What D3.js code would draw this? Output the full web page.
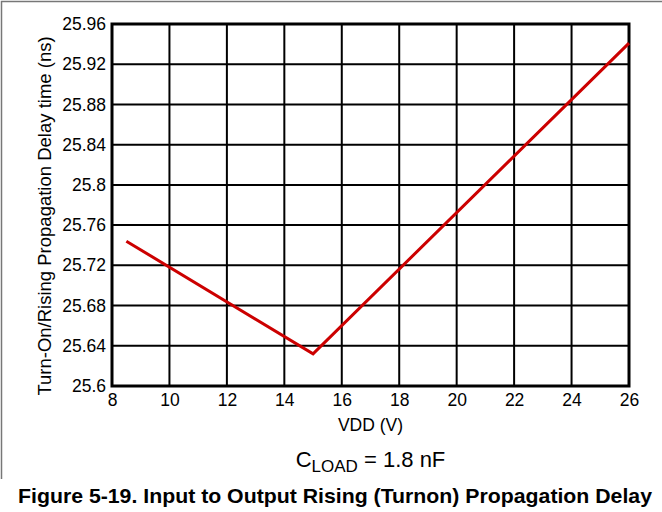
<!DOCTYPE html>
<html>
<head>
<meta charset="utf-8">
<script src="https://cdn.jsdelivr.net/npm/d3@7"></script>
<style>
  body { margin: 0; background: #fff; }
  svg { display: block; font-family: "Liberation Sans", Arial, sans-serif; }
</style>
</head>
<body>
<svg id="chart" width="662" height="512"></svg>
<script>
// Data
const vdd = [8.5, 15, 26];
const delay = [25.744, 25.632, 25.941];
const xTicks = [8, 10, 12, 14, 16, 18, 20, 22, 24, 26];
const yTicks = [25.6, 25.64, 25.68, 25.72, 25.76, 25.8, 25.84, 25.88, 25.92, 25.96];

const svg = d3.select("#chart");
const margin = { top: 24, right: 33, bottom: 126, left: 112 };
const width = 662 - margin.left - margin.right;
const height = 512 - margin.top - margin.bottom;

// outer figure frame (top + left)
svg.append("path")
    .attr("d", "M1.5,479 V1.5 H662")
    .attr("fill", "none")
    .attr("stroke", "#777")
    .attr("stroke-width", 1.5);

const x = d3.scaleLinear().domain([8, 26]).range([0, width]);
const y = d3.scaleLinear().domain([25.6, 25.96]).range([height, 0]);

const g = svg.append("g")
    .attr("transform", `translate(${margin.left},${margin.top})`);

// grid
g.append("g")
    .selectAll("line")
    .data(xTicks)
    .enter().append("line")
    .attr("x1", d => x(d)).attr("x2", d => x(d))
    .attr("y1", 0).attr("y2", height)
    .attr("stroke", "#000").attr("stroke-width", 2);

g.append("g")
    .selectAll("line")
    .data(yTicks)
    .enter().append("line")
    .attr("x1", 0).attr("x2", width)
    .attr("y1", d => y(d)).attr("y2", d => y(d))
    .attr("stroke", "#000").attr("stroke-width", 2);

g.append("rect")
    .attr("width", width).attr("height", height)
    .attr("fill", "none").attr("stroke", "#000").attr("stroke-width", 3);

// axes (labels only)
const xAxis = g.append("g")
    .attr("transform", `translate(0,${height})`)
    .call(d3.axisBottom(x).tickValues(xTicks).tickSize(0).tickPadding(8).tickFormat(d3.format("d")));
const yAxis = g.append("g")
    .call(d3.axisLeft(y).tickValues(yTicks).tickSize(0).tickPadding(6).tickFormat(d => +d.toFixed(2)));
[xAxis, yAxis].forEach(a => {
    a.select(".domain").remove();
    a.selectAll("text")
        .attr("font-family", "Liberation Sans, Arial, sans-serif")
        .attr("font-size", 17.5)
        .attr("fill", "#000");
});

// data line
const pts = vdd.map((v, i) => ({ v: v, d: delay[i] }));
g.append("path")
    .datum(pts)
    .attr("fill", "none")
    .attr("stroke", "#cc0000")
    .attr("stroke-width", 3)
    .attr("d", d3.line().x(d => x(d.v)).y(d => y(d.d)));

// titles
svg.append("text")
    .attr("x", margin.left + width / 2).attr("y", 431)
    .attr("text-anchor", "middle").attr("font-size", 17.5)
    .text("VDD (V)");

svg.append("text")
    .attr("transform", `translate(51,216) rotate(-90)`)
    .attr("text-anchor", "middle").attr("font-size", 18.5)
    .text("Turn-On/Rising Propagation Delay time (ns)");

const cl = svg.append("text")
    .attr("x", margin.left + width / 2).attr("y", 467)
    .attr("text-anchor", "middle").attr("font-size", 22);
cl.append("tspan").text("C");
cl.append("tspan").attr("font-size", 17).attr("dy", 5).text("LOAD");
cl.append("tspan").attr("dy", -5).text(" = 1.8 nF");

svg.append("text")
    .attr("x", 18).attr("y", 503)
    .attr("font-size", 21).attr("font-weight", "bold")
    .attr("textLength", 634).attr("lengthAdjust", "spacingAndGlyphs")
    .text("Figure 5-19. Input to Output Rising (Turnon) Propagation Delay");
</script>
</body>
</html>
